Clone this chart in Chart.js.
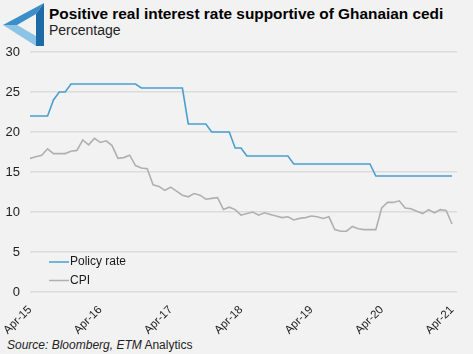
<!DOCTYPE html>
<html>
<head>
<meta charset="utf-8">
<script src="https://cdn.jsdelivr.net/npm/chart.js@4/dist/chart.umd.min.js"></script>
<style>
  body { margin: 0; background: #f2f2f2; }
  #wrap { position: relative; width: 473px; height: 354px; background: #f2f2f2; overflow: hidden; }
  #chart { position: absolute; left: 0; top: 0; }
  .txt { position: absolute; font-family: "Liberation Sans", Arial, sans-serif; color: #1a1a1a; white-space: nowrap; }
  #title { left: 49px; top: 5px; font-size: 15.4px; font-weight: bold; line-height: 17px; color: #000; }
  #subtitle { left: 49px; top: 22px; font-size: 14px; line-height: 17px; color: #222; }
  #source { left: 7px; top: 338px; font-size: 12px; line-height: 15px; color: #222; }
  #logo { position: absolute; left: 2px; top: 2px; }
</style>
</head>
<body>
<div id="wrap">
  <svg id="logo" width="44" height="46" viewBox="0 0 44 46">
    <polygon points="42,1 1,23 15,23 34,12" fill="#3a8fc8"/>
    <polygon points="1,23 34,44 34,34 15,23" fill="#8cc4e6"/>
    <polygon points="42,1 42,44 34,44 34,12" fill="#1d6aa5"/>
  </svg>
  <div class="txt" id="title">Positive real interest rate supportive of Ghanaian cedi</div>
  <div class="txt" id="subtitle">Percentage</div>
  <div class="txt" id="source"><i>Source: Bloomberg, ETM</i> Analytics</div>
  <canvas id="chart" width="473" height="354"></canvas>
</div>
<script>
// monthly, Apr-15 .. Apr-21 (73 points)
const months = [
  'Apr-15','May-15','Jun-15','Jul-15','Aug-15','Sep-15','Oct-15','Nov-15','Dec-15','Jan-16','Feb-16','Mar-16',
  'Apr-16','May-16','Jun-16','Jul-16','Aug-16','Sep-16','Oct-16','Nov-16','Dec-16','Jan-17','Feb-17','Mar-17',
  'Apr-17','May-17','Jun-17','Jul-17','Aug-17','Sep-17','Oct-17','Nov-17','Dec-17','Jan-18','Feb-18','Mar-18',
  'Apr-18','May-18','Jun-18','Jul-18','Aug-18','Sep-18','Oct-18','Nov-18','Dec-18','Jan-19','Feb-19','Mar-19',
  'Apr-19','May-19','Jun-19','Jul-19','Aug-19','Sep-19','Oct-19','Nov-19','Dec-19','Jan-20','Feb-20','Mar-20',
  'Apr-20','May-20','Jun-20','Jul-20','Aug-20','Sep-20','Oct-20','Nov-20','Dec-20','Jan-21','Feb-21','Mar-21',
  'Apr-21'
];
const tickLabels = ['Apr-15','Apr-16','Apr-17','Apr-18','Apr-19','Apr-20','Apr-21'];

const policyRate = [
  22, 22, 22, 22, 24, 25, 25, 26, 26, 26, 26, 26,
  26, 26, 26, 26, 26, 26, 26, 25.5, 25.5, 25.5, 25.5, 25.5,
  25.5, 25.5, 25.5, 21, 21, 21, 21, 20, 20, 20, 20, 18,
  18, 17, 17, 17, 17, 17, 17, 17, 17, 16, 16, 16,
  16, 16, 16, 16, 16, 16, 16, 16, 16, 16, 16, 14.5,
  14.5, 14.5, 14.5, 14.5, 14.5, 14.5, 14.5, 14.5, 14.5, 14.5, 14.5, 14.5,
  14.5
];
const cpi = [
  16.7, 16.9, 17.1, 17.9, 17.3, 17.3, 17.3, 17.6, 17.7, 19.0, 18.4, 19.2,
  18.7, 18.9, 18.3, 16.7, 16.8, 17.1, 15.8, 15.5, 15.4, 13.4, 13.2, 12.7,
  13.1, 12.6, 12.1, 11.9, 12.3, 12.1, 11.6, 11.7, 11.8, 10.3, 10.6, 10.3,
  9.6, 9.8, 10.0, 9.6, 9.9, 9.7, 9.5, 9.3, 9.4, 9.0, 9.2, 9.3,
  9.5, 9.4, 9.2, 9.4, 7.8, 7.6, 7.6, 8.2, 7.9, 7.8, 7.8, 7.8,
  10.5, 11.2, 11.2, 11.4, 10.5, 10.4, 10.1, 9.8, 10.3, 9.9, 10.3, 10.2,
  8.5
];

const toPoints = arr => arr.map((v, i) => ({ x: i, y: v }));

// legend drawn inside the plot, bottom-left
const insideLegend = {
  id: 'insideLegend',
  afterDraw(chart) {
    const ctx = chart.ctx;
    const x0 = chart.chartArea.left + 19;
    let y = 262;
    ctx.save();
    ctx.font = '12px "Liberation Sans", Arial, sans-serif';
    ctx.textBaseline = 'middle';
    chart.data.datasets.forEach(ds => {
      ctx.strokeStyle = ds.borderColor;
      ctx.lineWidth = 1.5;
      ctx.beginPath();
      ctx.moveTo(x0, y);
      ctx.lineTo(x0 + 20, y);
      ctx.stroke();
      ctx.fillStyle = '#1a1a1a';
      ctx.fillText(ds.label, x0 + 21, y);
      y += 18.5;
    });
    ctx.restore();
  }
};

new Chart(document.getElementById('chart'), {
  type: 'line',
  data: {
    datasets: [
      { label: 'Policy rate', data: toPoints(policyRate), borderColor: '#4a9fd0', borderWidth: 1.6, pointRadius: 0, tension: 0 },
      { label: 'CPI', data: toPoints(cpi), borderColor: '#b0b0b0', borderWidth: 1.6, pointRadius: 0, tension: 0 }
    ]
  },
  options: {
    responsive: false,
    animation: false,
    layout: { padding: { top: 52, right: 16, left: 0, bottom: 0 } },
    plugins: { legend: { display: false }, tooltip: { enabled: false } },
    scales: {
      x: {
        type: 'linear',
        min: 0,
        max: 72.85,
        afterBuildTicks: s => { s.ticks = tickLabels.map((_, i) => ({ value: i * 12 })); },
        afterFit: s => { s.height = 62; s.paddingLeft = 0; s.paddingRight = 0; },
        grid: { display: false, drawTicks: false },
        border: { display: false },
        ticks: {
          callback: v => tickLabels[v / 12],
          minRotation: 45, maxRotation: 45,
          padding: 11,
          color: '#222',
          font: { family: '"Liberation Sans", Arial, sans-serif', size: 11.5 }
        }
      },
      y: {
        min: 0,
        max: 30,
        afterFit: s => { s.width = 30; },
        grid: { color: '#dcdcdc', lineWidth: 1.5, drawTicks: false },
        border: { display: false },
        ticks: {
          stepSize: 5,
          padding: 10,
          color: '#222',
          font: { family: '"Liberation Sans", Arial, sans-serif', size: 13 }
        }
      }
    }
  },
  plugins: [insideLegend]
});
</script>
</body>
</html>
